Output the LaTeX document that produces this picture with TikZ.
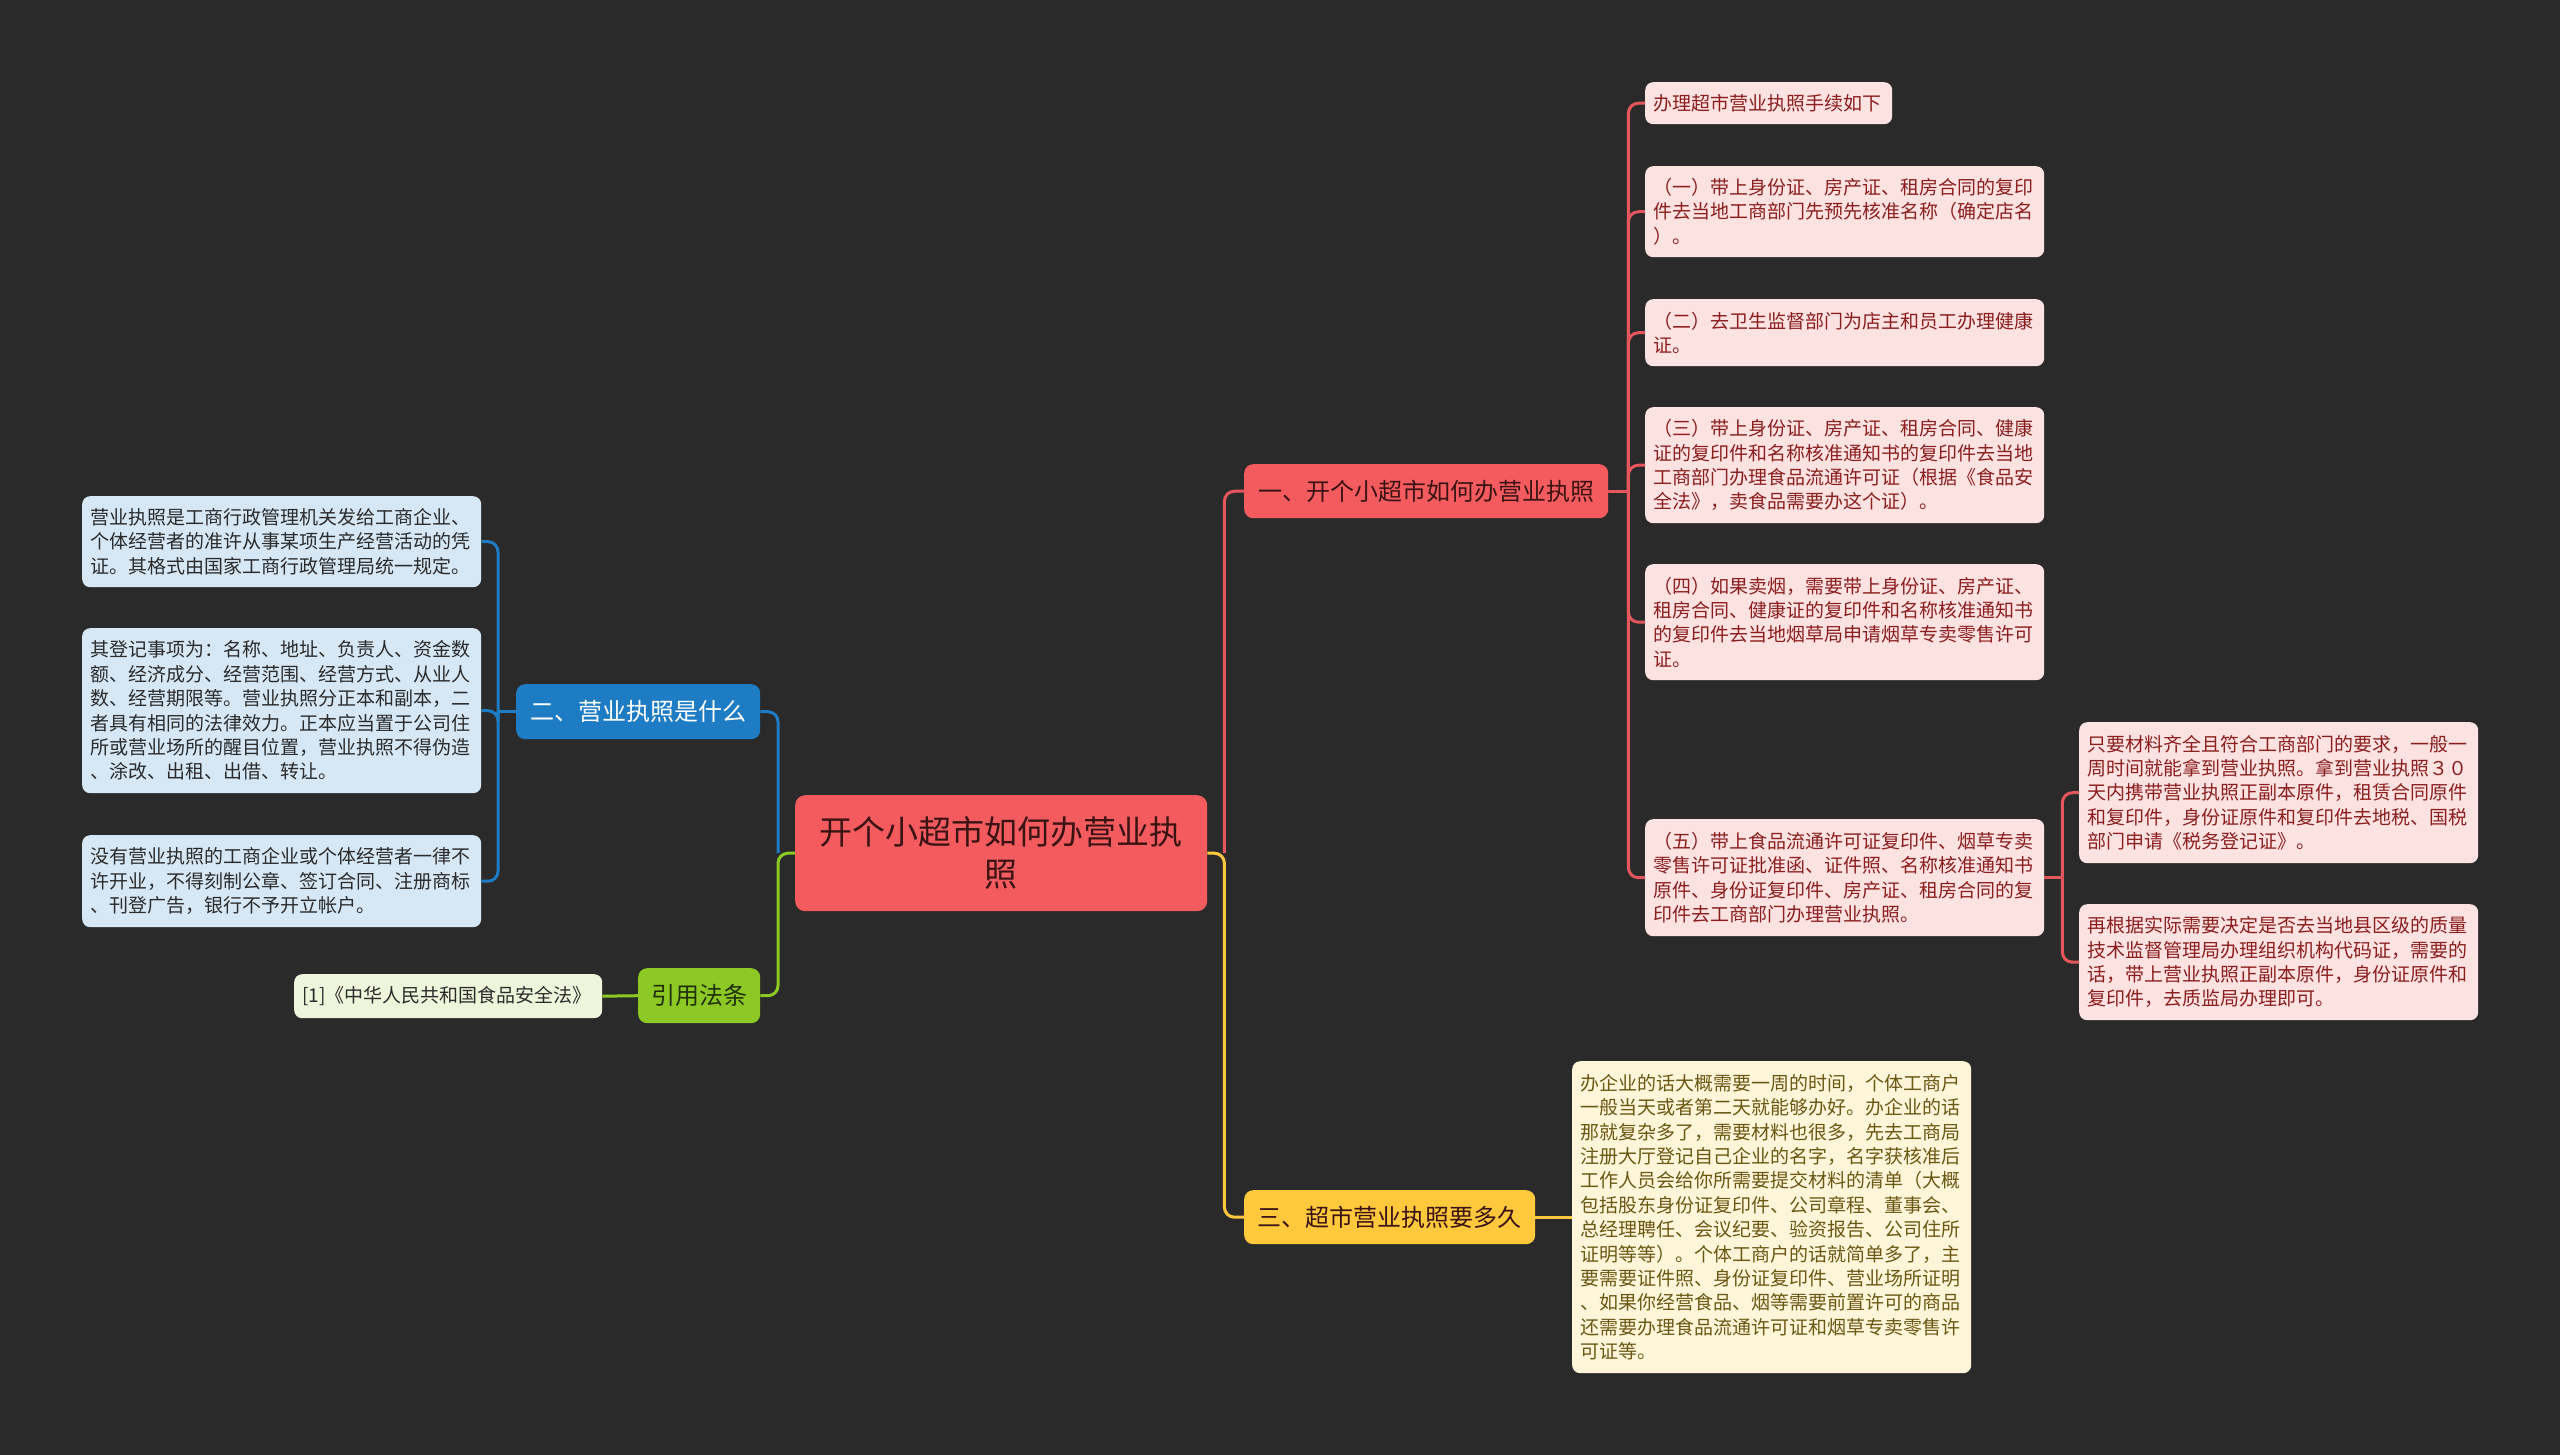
\documentclass[tikz,border=0pt]{standalone}
\usepackage{fontspec}
\newfontfamily\cjk{Noto Sans CJK SC}
\usepackage{xcolor}
\usepackage{tikz}

\definecolor{bgdark}{HTML}{2A2A2A}
\definecolor{rootred}{HTML}{F45B5F}
\definecolor{rootink}{HTML}{3A1414}
\definecolor{redlink}{HTML}{E5575C}
\definecolor{redleaf}{HTML}{FDE2E2}
\definecolor{redink}{HTML}{8B1E1E}
\definecolor{bluebranch}{HTML}{1E7CC4}
\definecolor{blueleaf}{HTML}{D6E7F5}
\definecolor{blueink}{HTML}{2B2B2B}
\definecolor{greenbranch}{HTML}{8DC925}
\definecolor{greenleaf}{HTML}{EEF5DA}
\definecolor{greenink}{HTML}{213006}
\definecolor{yellowbranch}{HTML}{FFC83D}
\definecolor{yellowleaf}{HTML}{FFF6D9}
\definecolor{yellowink}{HTML}{6B5714}

\begin{document}
\begin{tikzpicture}[
    x=1pt, y=-1pt,
    rootbox/.style={
        fill=rootred,
        rounded corners=10pt,
        anchor=north west,
        align=center,
        text=rootink,
        font=\cjk\fontsize{33pt}{42pt}\selectfont
    },
    branchbox/.style={
        rounded corners=9pt,
        anchor=north west,
        align=center,
        font=\cjk\fontsize{24pt}{30pt}\selectfont
    },
    leafbox/.style={
        rounded corners=8pt,
        anchor=north west,
        align=left,
        inner xsep=8pt,
        inner ysep=0pt,
        text width=383pt,
        font=\cjk\fontsize{19pt}{24.4pt}\selectfont
    },
    link/.style={
        line width=3pt,
        rounded corners=10pt
    }
]

% Background
\fill[bgdark] (0,0) rectangle (2560,1455);

% Root
\node (root) at (795,795) [rootbox, minimum width=412pt, minimum height=116pt] {开个小超市如何办营业执\\照};

% Branches
\node (b1) at (1244,464) [branchbox, fill=rootred, text=rootink, minimum width=364pt, minimum height=54pt] {一、开个小超市如何办营业执照};
\node (b2) at (516,684) [branchbox, fill=bluebranch, text=white, minimum width=244pt, minimum height=55pt] {二、营业执照是什么};
\node (b3) at (638,968) [branchbox, fill=greenbranch, text=greenink, minimum width=122pt, minimum height=55pt] {引用法条};
\node (b4) at (1244,1190) [branchbox, fill=yellowbranch, text=rootink, minimum width=291pt, minimum height=54pt] {三、超市营业执照要多久};

% Leaves of branch one
\node (a1) at (1645,82) [leafbox, fill=redleaf, text=redink, text width=231pt, minimum height=42pt] {办理超市营业执照手续如下};
\node (a2) at (1645,166) [leafbox, fill=redleaf, text=redink, minimum height=91pt] {（一）带上身份证、房产证、租房合同的复印\\件去当地工商部门先预先核准名称（确定店名\\）。};
\node (a3) at (1645,299) [leafbox, fill=redleaf, text=redink, minimum height=67pt] {（二）去卫生监督部门为店主和员工办理健康\\证。};
\node (a4) at (1645,407) [leafbox, fill=redleaf, text=redink, minimum height=116pt] {（三）带上身份证、房产证、租房合同、健康\\证的复印件和名称核准通知书的复印件去当地\\工商部门办理食品流通许可证（根据《食品安\\全法》，卖食品需要办这个证）。};
\node (a5) at (1645,564) [leafbox, fill=redleaf, text=redink, minimum height=116pt] {（四）如果卖烟，需要带上身份证、房产证、\\租房合同、健康证的复印件和名称核准通知书\\的复印件去当地烟草局申请烟草专卖零售许可\\证。};
\node (a6) at (1645,819) [leafbox, fill=redleaf, text=redink, minimum height=117pt] {（五）带上食品流通许可证复印件、烟草专卖\\零售许可证批准函、证件照、名称核准通知书\\原件、身份证复印件、房产证、租房合同的复\\印件去工商部门办理营业执照。};

% Leaves of step five
\node (a61) at (2079,722) [leafbox, fill=redleaf, text=redink, minimum height=141pt] {只要材料齐全且符合工商部门的要求，一般一\\周时间就能拿到营业执照。拿到营业执照３０\\天内携带营业执照正副本原件，租赁合同原件\\和复印件，身份证原件和复印件去地税、国税\\部门申请《税务登记证》。};
\node (a62) at (2079,904) [leafbox, fill=redleaf, text=redink, minimum height=116pt] {再根据实际需要决定是否去当地县区级的质量\\技术监督管理局办理组织机构代码证，需要的\\话，带上营业执照正副本原件，身份证原件和\\复印件，去质监局办理即可。};

% Leaves of branch two
\node (c1) at (82,496) [leafbox, fill=blueleaf, text=blueink, minimum height=91pt] {营业执照是工商行政管理机关发给工商企业、\\个体经营者的准许从事某项生产经营活动的凭\\证。其格式由国家工商行政管理局统一规定。};
\node (c2) at (82,628) [leafbox, fill=blueleaf, text=blueink, minimum height=165pt] {其登记事项为：名称、地址、负责人、资金数\\额、经济成分、经营范围、经营方式、从业人\\数、经营期限等。营业执照分正本和副本，二\\者具有相同的法律效力。正本应当置于公司住\\所或营业场所的醒目位置，营业执照不得伪造\\、涂改、出租、出借、转让。};
\node (c3) at (82,835) [leafbox, fill=blueleaf, text=blueink, minimum height=92pt] {没有营业执照的工商企业或个体经营者一律不\\许开业，不得刻制公章、签订合同、注册商标\\、刊登广告，银行不予开立帐户。};

% Leaf of the law branch
\node (g1) at (294,974) [leafbox, fill=greenleaf, text=blueink, text width=292pt, minimum height=44pt] {[1]《中华人民共和国食品安全法》};

% Leaf of branch three
\node (d1) at (1572,1061) [leafbox, fill=yellowleaf, text=yellowink, minimum height=312pt] {办企业的话大概需要一周的时间，个体工商户\\一般当天或者第二天就能够办好。办企业的话\\那就复杂多了，需要材料也很多，先去工商局\\注册大厅登记自己企业的名字，名字获核准后\\工作人员会给你所需要提交材料的清单（大概\\包括股东身份证复印件、公司章程、董事会、\\总经理聘任、会议纪要、验资报告、公司住所\\证明等等）。个体工商户的话就简单多了，主\\要需要证件照、身份证复印件、营业场所证明\\、如果你经营食品、烟等需要前置许可的商品\\还需要办理食品流通许可证和烟草专卖零售许\\可证等。};

% Junction points
\path (root.east) ++(17,0) coordinate (rj);
\path (root.west) ++(-17,0) coordinate (lj);
\path (b1.east) ++(20,0) coordinate (j1);
\path (a6.east) ++(18,0) coordinate (j6);
\path (b2.west) ++(-18,0) coordinate (j2);

% Links from the root
\draw [link, draw=redlink] (rj) |- (b1.west);
\draw [link, draw=yellowbranch] (root.east) -- (rj) |- (b4.west);
\draw [link, draw=bluebranch] (lj) |- (b2.east);
\draw [link, draw=greenbranch] (root.west) -- (lj) |- (b3.east);

% Links of branch one
\draw [link, draw=redlink] (b1.east) -- (j1);
\foreach \n in {a1,a2,a3,a4,a5,a6}
    \draw [link, draw=redlink] (j1) |- (\n.west);
\draw [link, draw=redlink] (a6.east) -- (j6);
\foreach \n in {a61,a62}
    \draw [link, draw=redlink] (j6) |- (\n.west);

% Links of branch two
\draw [link, draw=bluebranch] (b2.west) -- (j2);
\foreach \n in {c1,c2,c3}
    \draw [link, draw=bluebranch] (j2) |- (\n.east);

% Links of the law branch and branch three
\draw [link, draw=greenbranch] (b3.west) -- (g1.east);
\draw [link, draw=yellowbranch] (b4.east) -- (d1.west);

\end{tikzpicture}
\end{document}
